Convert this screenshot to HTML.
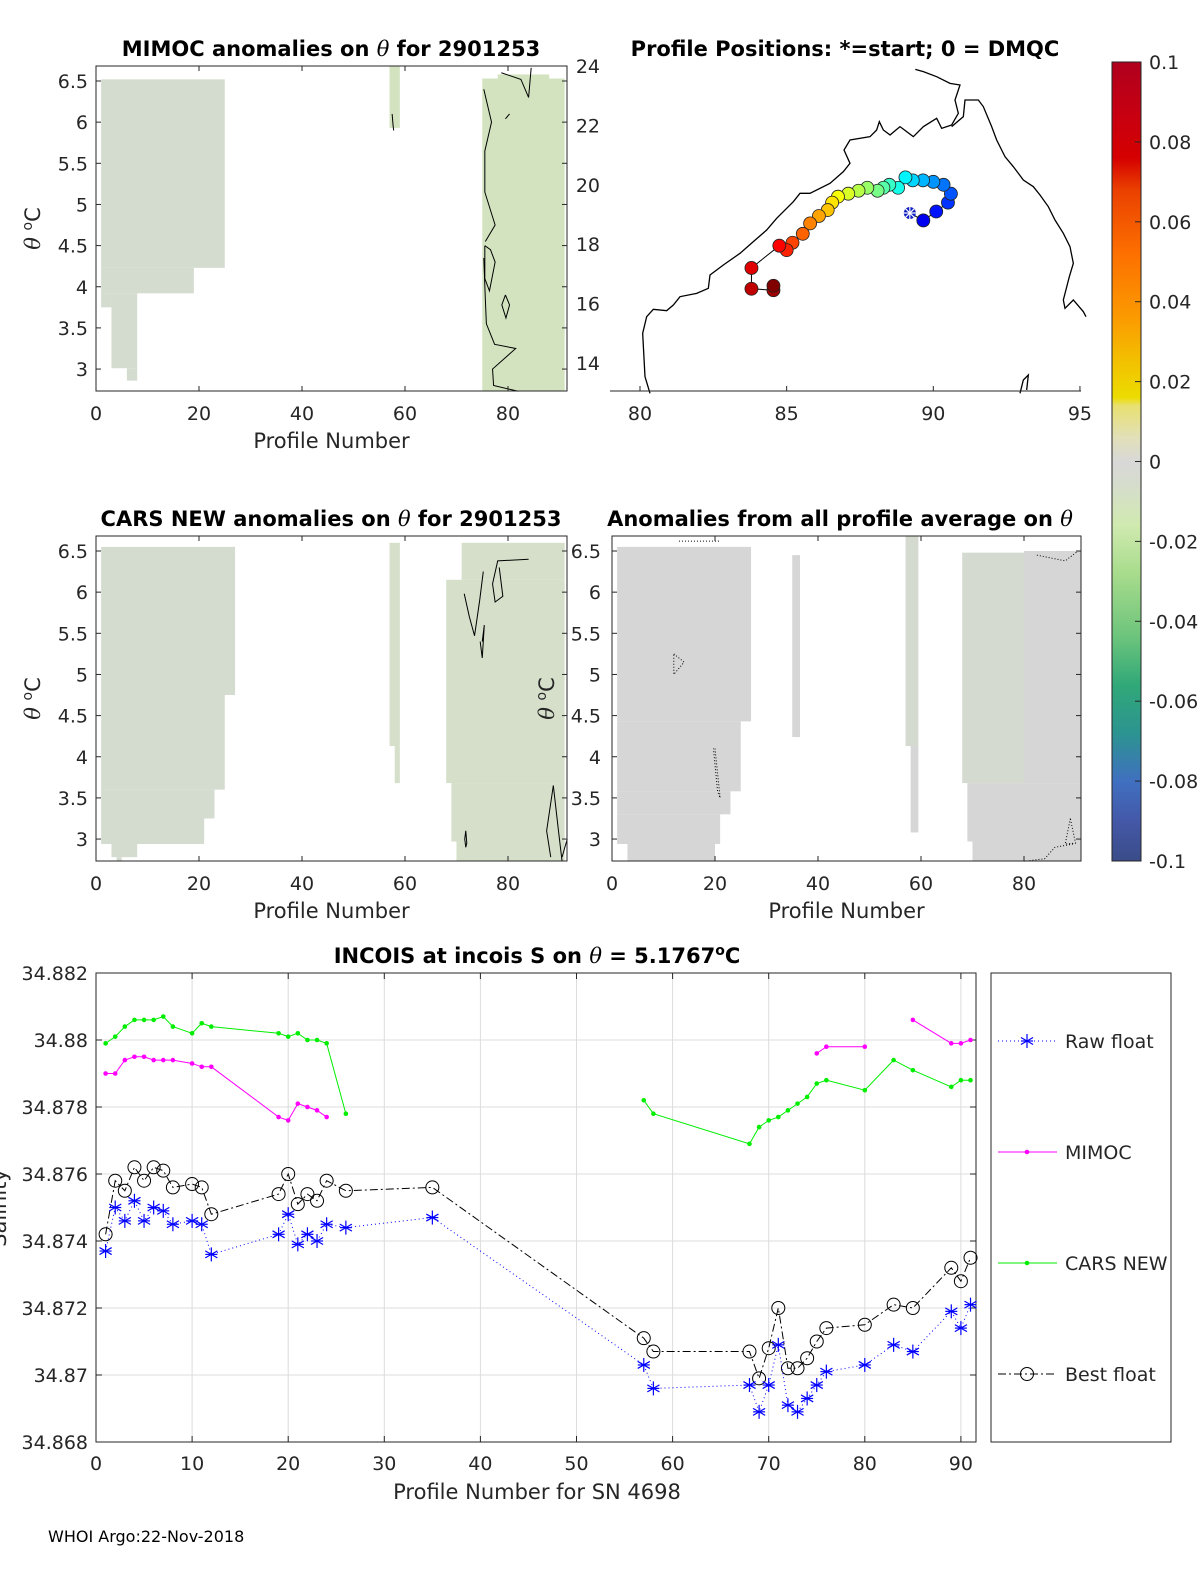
<!DOCTYPE html>
<html><head><meta charset="utf-8"><style>
html,body{margin:0;padding:0;background:#fff;}
svg{display:block;font-family:"DejaVu Sans","Liberation Sans",sans-serif;}
.t{font-size:19px;fill:#262626;}
.ttl{font-size:21px;font-weight:bold;fill:#000;}
.lab{font-size:21px;fill:#262626;}
</style></head><body>
<svg id="fig" width="1200" height="1575" viewBox="0 0 1200 1575" xmlns="http://www.w3.org/2000/svg">
<defs>
<linearGradient id="cbg" x1="0" y1="0" x2="0" y2="1">
<stop offset="0" stop-color="#b0001e"/><stop offset="0.07" stop-color="#c80010"/><stop offset="0.12" stop-color="#d50000"/>
<stop offset="0.16" stop-color="#ea4000"/><stop offset="0.24" stop-color="#fd7000"/><stop offset="0.32" stop-color="#fb9a00"/>
<stop offset="0.38" stop-color="#f2c400"/><stop offset="0.42" stop-color="#ecdc00"/><stop offset="0.43" stop-color="#e8e070"/>
<stop offset="0.47" stop-color="#e2e0b8"/><stop offset="0.5" stop-color="#d8d8d8"/><stop offset="0.53" stop-color="#d6ddcc"/>
<stop offset="0.58" stop-color="#d0eab0"/><stop offset="0.64" stop-color="#a8dc8c"/>
<stop offset="0.72" stop-color="#6cc47c"/><stop offset="0.78" stop-color="#30a878"/><stop offset="0.84" stop-color="#2c9490"/>
<stop offset="0.9" stop-color="#4070c0"/><stop offset="0.95" stop-color="#4458a8"/><stop offset="1" stop-color="#3a4c88"/>
</linearGradient>
</defs>
<g id="root"></g>
<text x="48" y="1542" font-size="16" fill="#000">WHOI Argo:22-Nov-2018</text>
</svg>
<script>
// ---------- bottom chart data ----------
const profiles = [1,2,3,4,5,6,7,8,10,11,12,19,20,21,22,23,24,26,35,57,58,68,69,70,71,72,73,74,75,76,80,83,85,89,90,91];
const rawFloat = [34.8737,34.8750,34.8746,34.8752,34.8746,34.8750,34.8749,34.8745,34.8746,34.8745,34.8736,34.8742,34.8748,34.8739,34.8742,34.8740,34.8745,34.8744,34.8747,34.8703,34.8696,34.8697,34.8689,34.8697,34.8709,34.8691,34.8689,34.8693,34.8697,34.8701,34.8703,34.8709,34.8707,34.8719,34.8714,34.8721];
const bestFloat = [34.8742,34.8758,34.8755,34.8762,34.8758,34.8762,34.8761,34.8756,34.8757,34.8756,34.8748,34.8754,34.8760,34.8751,34.8754,34.8752,34.8758,34.8755,34.8756,34.8711,34.8707,34.8707,34.8699,34.8708,34.8720,34.8702,34.8702,34.8705,34.8710,34.8714,34.8715,34.8721,34.8720,34.8732,34.8728,34.8735];
const mimoc = [34.8790,34.8790,34.8794,34.8795,34.8795,34.8794,34.8794,34.8794,34.8793,34.8792,34.8792,34.8777,34.8776,34.8781,34.8780,34.8779,34.8777,null,null,null,null,null,null,null,null,null,null,null,34.8796,34.8798,34.8798,null,34.8806,34.8799,34.8799,34.8800];
const carsNew = [34.8799,34.8801,34.8804,34.8806,34.8806,34.8806,34.8807,34.8804,34.8802,34.8805,34.8804,34.8802,34.8801,34.8802,34.8800,34.8800,34.8799,34.8778,null,34.8782,34.8778,34.8769,34.8774,34.8776,34.8777,34.8779,34.8781,34.8783,34.8787,34.8788,34.8785,34.8794,34.8791,34.8786,34.8788,34.8788];
const xTicks = [0,10,20,30,40,50,60,70,80,90];
const yTicks = [34.868,34.870,34.872,34.874,34.876,34.878,34.880,34.882];
const yTickLabels = ["34.868","34.87","34.872","34.874","34.876","34.878","34.88","34.882"];

// ---------- heatmap panel data: [p0,p1,thTop,thBot,colour] ----------
const mimocCells = [[1,25,6.52,4.23,0],[1,19,4.23,3.92,0],[1,3,3.92,3.75,0],[3,8,3.92,3.01,0],[6,8,3.01,2.86,0],[57,59,6.68,5.93,1],[75,91,6.53,2.73,1],[78,88,6.58,6.5,1]];
const carsCells = [[1,27,6.55,4.75,0],[1,25,4.75,3.6,0],[1,23,3.6,3.25,0],[1,21,3.25,2.94,0],[3,8,2.94,2.78,0],[4,5,2.78,2.73,0],[57,59,6.6,4.13,2],[58,59,4.13,3.68,2],[68,91,6.15,3.68,2],[71,91,6.6,6.15,2],[69,91,3.68,2.97,2],[70,91,2.97,2.73,2]];
const avgCells = [[1,27,6.55,4.43,3],[1,25,4.43,3.58,3],[1,23,3.58,3.3,3],[1,21,3.3,2.94,3],[3,20,2.94,2.73,3],[35,36.5,6.45,4.24,3],[57,59.5,6.68,4.13,4],[58,59.5,4.13,3.08,3],[68,80,6.48,3.68,4],[80,91,6.5,3.68,3],[69,91,3.68,2.97,3],[70,91,2.97,2.73,3]];
const cellColours = ["#d4dbcf","#d3e3c0","#d5dfca","#d6d6d6","#d4dad0"];
const thTicks = [3,3.5,4,4.5,5,5.5,6,6.5];
const pTicks = [0,20,40,60,80];
const mimocContours = [
 [[75.3,6.4],[76.8,6.0],[75.5,5.65],[75.5,5.15],[77.5,4.75],[75.6,4.55]],
 [[75.3,4.35],[75.6,3.85],[75.8,3.55],[77.4,3.3],[81.5,3.25],[77,3.0],[77.2,2.8],[82,2.73]],
 [[75.5,4.5],[76.6,4.45],[77.5,4.3],[76.4,3.95],[75.5,4.1],[75.5,4.5]],
 [[79.5,3.9],[80.3,3.78],[79.6,3.62],[78.8,3.78],[79.5,3.9]],
 [[57.5,6.1],[57.7,5.95],[57.8,5.9]],[[79.5,6.04],[80.3,6.1]],[[78.7,6.6],[82.5,6.52],[84,6.3],[84.5,6.66]]
];
const carsContours = [
 [[84,6.4],[78,6.38],[77,6.1],[77.5,5.88],[79,5.95],[78.3,6.3]],
 [[71.5,5.98],[72.5,5.7],[73.5,5.47],[74.5,5.9],[75.2,6.25]],
 [[75,5.4],[75.4,5.6],[75,5.2],[74.6,5.4]],
 [[88.8,3.65],[87.5,3.1],[88.3,2.78]],[[88.8,3.65],[89.8,3.1],[90.5,2.73]],
 [[71.8,3.1],[72,2.95],[71.8,2.9],[71.6,3.0],[71.8,3.1]],[[91.5,3.0],[90.5,2.78]]
];
const avgContours = [
 [[12,5.25],[14,5.15],[12,5.0],[12,5.25]],
 [[20,4.1],[21,3.5],[20.5,3.58],[19.7,4.1]],
 [[13,6.62],[21,6.62]],[[82.5,6.45],[88,6.38],[90.5,6.5]],[[89.5,2.94],[86,2.9],[84,2.76],[80,2.73]],[[89,3.25],[88,2.94],[90,2.95],[89,3.25]]
];

// ---------- map data ----------
const trackLon = [89.2,89.66,90.1,90.5,90.6,90.35,90.0,89.65,89.3,89.05,88.8,88.5,88.3,88.1,87.75,87.45,87.1,86.75,86.55,86.4,86.1,85.8,85.55,85.2,85.0,84.75,83.8,83.8,84.55,84.55];
const trackLat = [19.05,18.8,19.1,19.4,19.7,20.0,20.1,20.15,20.15,20.25,19.9,20.0,19.9,19.8,19.9,19.8,19.7,19.6,19.4,19.15,18.95,18.7,18.35,18.05,17.8,17.95,17.2,16.5,16.45,16.6];
const mapXTicks = [80,85,90,95];
const mapYTicks = [14,16,18,20,22,24];
const cbTicks = [0.1,0.08,0.06,0.04,0.02,0,-0.02,-0.04,-0.06,-0.08,-0.1];

const NS = "http://www.w3.org/2000/svg";
const root = document.getElementById("root");
function mk(tag, attrs, parent, text){
  const e = document.createElementNS(NS, tag);
  for (const k in attrs) e.setAttribute(k, attrs[k]);
  if (text !== undefined) e.textContent = text;
  (parent||root).appendChild(e);
  return e;
}
function grp(name){
  const g = mk("g", {});
  
  
  return g;
}

function panel(name, x0, xR, yTop, yBot, th65y, cells, contours, dotted, titleTxt, titleX, ylabX, ytickX){
  const g = grp(name);
  const xs = p => x0 + p*5.15;
  const ys = t => th65y + (6.5 - t)*82.3;
  cells.forEach(c => {
    const r = mk("rect", {x:xs(c[0]), y:ys(c[2]), width:xs(c[1])-xs(c[0]), height:ys(c[3])-ys(c[2]), fill:cellColours[c[4]]}, g);
    
    
  });
  contours.forEach(line => {
    const pl = mk("polyline", {points: line.map(q => xs(q[0])+","+ys(q[1])).join(" "), fill:"none", stroke:"#000", "stroke-width":1, "stroke-dasharray": dotted ? "1 2" : "none"}, g);
    
    
  });
  const box = mk("rect", {x:x0, y:yTop, width:xR-x0, height:yBot-yTop, fill:"none", stroke:"#262626", "stroke-width":1}, g);
  
  
  pTicks.forEach(p => {
    mk("line", {x1:xs(p), x2:xs(p), y1:yBot, y2:yBot-5, stroke:"#262626"}, g);
    mk("line", {x1:xs(p), x2:xs(p), y1:yTop, y2:yTop+5, stroke:"#262626"}, g);
    const t = mk("text", {x:xs(p), y:yBot+29, class:"t", "text-anchor":"middle"}, g, String(p));
    
    
  });
  thTicks.forEach(v => {
    mk("line", {x1:x0, x2:x0+5, y1:ys(v), y2:ys(v), stroke:"#262626"}, g);
    mk("line", {x1:xR, x2:xR-5, y1:ys(v), y2:ys(v), stroke:"#262626"}, g);
    const t = mk("text", {x:ytickX, y:ys(v)+7, class:"t", "text-anchor":"end"}, g, String(v));
    
    
  });
  const xl = mk("text", {x:(x0+xR)/2, y:yBot+57, class:"lab", "text-anchor":"middle"}, g, "Profile Number");
  
  
  const yl = mk("text", {x:ylabX, y:(yTop+yBot)/2, class:"lab", "text-anchor":"middle", transform:"rotate(-90 "+ylabX+" "+(yTop+yBot)/2+")"}, g);
  yl.innerHTML = '<tspan font-style="italic" font-family="DejaVu Serif, serif">θ</tspan> <tspan baseline-shift="super" font-size="14">o</tspan>C';
  
  
  const tt = mk("text", {x:titleX, y:yTop-10, class:"ttl", "text-anchor":"middle"}, g);
  tt.innerHTML = titleTxt;
  
  
}
const TH = '<tspan font-style="italic" font-weight="normal" font-family="DejaVu Serif, serif">θ</tspan>';
panel("mimoc-anomaly-panel", 96, 567, 66, 391, 81, mimocCells, mimocContours, false, "MIMOC anomalies on "+TH+"  for 2901253", 331, 40, 88);
panel("cars-anomaly-panel", 96, 567, 536, 861, 551, carsCells, carsContours, false, "CARS NEW anomalies on "+TH+" for 2901253", 331, 40, 88);
panel("average-anomaly-panel", 612, 1081, 536, 861, 551, avgCells, avgContours, true, "Anomalies from all profile average on "+TH, 840, 554, 601);

// ---------- map ----------
(function(){
  const g = grp("profile-positions-map");
  const lx = lon => 640 + (lon-80)*29.33;
  const ly = lat => 66 + (24-lat)*29.7;
  const coastW = [[60,1000],[45,950],[38,820],[50,770],[70,748],[110,752],[130,735],[150,710],[200,700],[235,685],[240,645],[280,615],[330,580],[370,545],[410,510],[440,475],[490,425],[510,400],[540,400],[600,370],[640,335],[660,310],[642,270],[660,240],[720,230],[740,210],[748,185],[760,210],[780,225],[810,200],[850,230],[880,200],[920,175],[935,205],[965,195],[985,160],[975,120],[990,75],[960,70],[920,50],[880,35],[856,28]];
  const coastE = [[965,200],[1000,170],[1005,120],[1045,120],[1060,140],[1085,200],[1100,240],[1125,290],[1150,320],[1180,360],[1210,380],[1230,405],[1255,440],[1275,480],[1300,520],[1320,560],[1330,610],[1318,650],[1300,720],[1305,745],[1330,720],[1360,755],[1368,770]];
  const coastS = [[1170,1000],[1180,960],[1195,945],[1190,990]];
  [coastW,coastE,coastS].forEach(c => {
    const p = mk("polyline", {points:c.map(q => (630+q[0]/3)+","+(60+q[1]/3)).join(" "), fill:"none", stroke:"#000", "stroke-width":1.3}, g);
    
    
  });
  const trk = mk("polyline", {points:trackLon.map((v,i)=>lx(v)+","+ly(trackLat[i])).join(" "), fill:"none", stroke:"#000", "stroke-width":1}, g);
  
  
  const n = trackLon.length;
  function jet(t){ const c = v => Math.round(255*Math.max(0,Math.min(1,v))); return "rgb("+c(1.5-Math.abs(4*t-3))+","+c(1.5-Math.abs(4*t-2))+","+c(1.5-Math.abs(4*t-1))+")"; }
  for (let i=1;i<n;i++){
    const t = 0.08 + 0.92*i/(n-1);
    const c = mk("circle", {cx:lx(trackLon[i]), cy:ly(trackLat[i]), r:6.5, fill:jet(t), stroke:"#222", "stroke-width":0.8}, g);
    
    
  }
  const sx = lx(trackLon[0]), sy = ly(trackLat[0]);
  const st = mk("g", {}, g);
  
  
  mk("circle", {cx:sx, cy:sy, r:6, fill:"#1020c0"}, st);
  for (let a=0;a<4;a++){ const an=a*Math.PI/4; mk("line",{x1:sx-6*Math.cos(an),y1:sy-6*Math.sin(an),x2:sx+6*Math.cos(an),y2:sy+6*Math.sin(an),stroke:"#fff","stroke-width":1.2},st); }
  mk("line", {x1:610, x2:1081, y1:391, y2:391, stroke:"#262626"}, g);
  mapXTicks.forEach(v => {
    mk("line", {x1:lx(v), x2:lx(v), y1:391, y2:386, stroke:"#262626"}, g);
    const t = mk("text", {x:lx(v), y:420, class:"t", "text-anchor":"middle"}, g, String(v));
    
    
  });
  mapYTicks.forEach(v => {
    const t = mk("text", {x:600, y:ly(v)+7, class:"t", "text-anchor":"end"}, g, String(v));
    
    
  });
  const tt = mk("text", {x:845, y:56, class:"ttl", "text-anchor":"middle"}, g, "Profile Positions: *=start; 0 = DMQC");
  
  
})();

// ---------- colorbar ----------
(function(){
  const g = grp("colorbar");
  const r = mk("rect", {x:1112, y:62, width:29, height:799, fill:"url(#cbg)", stroke:"#262626", "stroke-width":1}, g);
  
  
  const cy = v => 62 + (0.1 - v)/0.2*799;
  cbTicks.forEach(v => {
    mk("line", {x1:1141, x2:1135, y1:cy(v), y2:cy(v), stroke:"#262626"}, g);
    const t = mk("text", {x:1149, y:cy(v)+7, class:"t", "font-size":"18"}, g, String(v));
    
    
  });
})();

// ---------- bottom line chart ----------
(function(){
  const g = grp("salinity-chart");
  const X0=96, X1=976, Y0=973, Y1=1442;
  const xs = p => X0 + p*9.61;
  const ys = v => Y0 + (34.882 - v)/0.014*(Y1-Y0);
  xTicks.forEach(p => {
    mk("line", {x1:xs(p), x2:xs(p), y1:Y0, y2:Y1, stroke:"#dcdcdc"}, g);
    mk("line", {x1:xs(p), x2:xs(p), y1:Y1, y2:Y1-6, stroke:"#262626"}, g);
    mk("line", {x1:xs(p), x2:xs(p), y1:Y0, y2:Y0+6, stroke:"#262626"}, g);
    const t = mk("text", {x:xs(p), y:Y1+28, class:"t", "text-anchor":"middle"}, g, String(p));
    
    
  });
  yTicks.forEach((v,i) => {
    mk("line", {x1:X0, x2:X1, y1:ys(v), y2:ys(v), stroke:"#dcdcdc"}, g);
    mk("line", {x1:X0, x2:X0+6, y1:ys(v), y2:ys(v), stroke:"#262626"}, g);
    mk("line", {x1:X1, x2:X1-6, y1:ys(v), y2:ys(v), stroke:"#262626"}, g);
    const t = mk("text", {x:88, y:ys(v)+7, class:"t", "text-anchor":"end"}, g, yTickLabels[i]);
    
    
  });
  const box = mk("rect", {x:X0, y:Y0, width:X1-X0, height:Y1-Y0, fill:"none", stroke:"#262626"}, g);
  
  
  function segs(vals){
    const out=[]; let cur=[];
    vals.forEach((v,i)=>{ if(v===null){ if(cur.length) out.push(cur); cur=[]; } else cur.push(xs(profiles[i])+","+ys(v)); });
    if(cur.length) out.push(cur); return out;
  }
  function series(name, vals, color, dash, marker){
    const sg = mk("g", {}, g);
    
    
    segs(vals).forEach(s => {
      const l = mk("polyline", {points:s.join(" "), fill:"none", stroke:color, "stroke-width":1, "stroke-dasharray":dash}, sg);
      
      
    });
    vals.forEach((v,i) => { if (v!==null) drawMarker(sg, marker, xs(profiles[i]), ys(v), color, name); });
  }
  function drawMarker(parent, m, x, y, color, name){
    let e;
    if (m==="dot"){ e = mk("circle", {cx:x, cy:y, r:2.3, fill:color}, parent); }
    else if (m==="circle"){ e = mk("circle", {cx:x, cy:y, r:6.5, fill:"none", stroke:color, "stroke-width":1}, parent); }
    else {
      e = mk("g", {}, parent);
      for (let a=0;a<3;a++){ const an=a*Math.PI/3+Math.PI/2; mk("line",{x1:x-7*Math.cos(an),y1:y-7*Math.sin(an),x2:x+7*Math.cos(an),y2:y+7*Math.sin(an),stroke:color,"stroke-width":1.2},e); }
      mk("line",{x1:x-6,y1:y,x2:x+6,y2:y,stroke:color,"stroke-width":1.2},e);
    }
    
    
  }
  series("cars-new-series", carsNew, "#00ee00", "none", "dot");
  series("mimoc-series", mimoc, "#ff00ff", "none", "dot");
  series("best-float-series", bestFloat, "#000000", "8 3 2 3", "circle");
  series("raw-float-series", rawFloat, "#0000ff", "1 3", "star");
  const tt = mk("text", {x:537, y:963, class:"ttl", "text-anchor":"middle"}, g);
  tt.innerHTML = 'INCOIS at incois S on '+TH+' = 5.1767<tspan baseline-shift="super" font-size="14">o</tspan>C';
  
  
  const xl = mk("text", {x:537, y:1499, class:"lab", "text-anchor":"middle"}, g, "Profile Number for SN 4698");
  
  
  const yl = mk("text", {x:6, y:1208, class:"lab", "text-anchor":"middle", transform:"rotate(-90 6 1208)"}, g, "Salinity");
  
  
  const lg = mk("g", {}, g);
  
  
  mk("rect", {x:991, y:973, width:180, height:469, fill:"#fff", stroke:"#262626"}, lg);
  const entries = [["Raw float","#0000ff","1 3","star",1041],["MIMOC","#ff00ff","none","dot",1152],["CARS NEW","#00ee00","none","dot",1263],["Best float","#000000","8 3 2 3","circle",1374]];
  entries.forEach(en => {
    const eg = mk("g", {}, lg);
    
    
    mk("line", {x1:998, x2:1057, y1:en[4], y2:en[4], stroke:en[1], "stroke-width":1, "stroke-dasharray":en[2]}, eg);
    drawMarker(eg, en[3], 1027, en[4], en[1], "legend");
    mk("text", {x:1065, y:en[4]+7, class:"t"}, eg, en[0]);
  });
})();
</script>
</body></html>
